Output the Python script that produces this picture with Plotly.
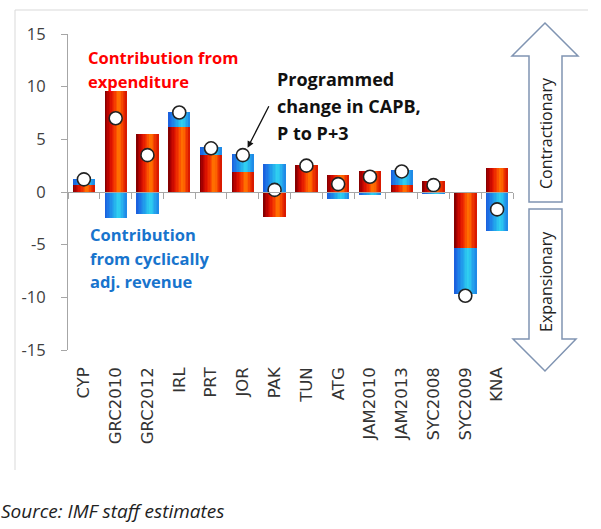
import plotly.graph_objects as go

categories = ["CYP", "GRC2010", "GRC2012", "IRL", "PRT", "JOR", "PAK", "TUN",
              "ATG", "JAM2010", "JAM2013", "SYC2008", "SYC2009", "KNA"]
expenditure = [0.7, 9.6, 5.55, 6.2, 3.55, 1.9, -2.35, 2.55, 1.6, 1.95, 0.65, 1.05, -5.35, 2.25]
revenue = [0.55, -2.5, -2.05, 1.4, 0.7, 1.75, 2.7, 0.0, -0.7, -0.3, 1.4, -0.2, -4.35, -3.7]
capb_change = [1.2, 7.0, 3.5, 7.55, 4.15, 3.5, 0.2, 2.5, 0.75, 1.45, 1.95, 0.65, -9.85, -1.65]
y_ticks = [-15, -10, -5, 0, 5, 10, 15]
y_tick_text = ["-15", "-10", "-5", "0", "5", "10", "15"]

W, H = 601, 529
ML, MR, MT, MB = 68, 88, 34, 179
PW, PH = W - ML - MR, H - MT - MB


def px(x):
    return (x - ML) / PW


def py(y):
    return (H - MB - y) / PH


def hex2rgb(h):
    h = h.lstrip("#")
    return [int(h[i:i + 2], 16) for i in (0, 2, 4)]


def interp(stops, t):
    for (t0, c0), (t1, c1) in zip(stops, stops[1:]):
        if t0 <= t <= t1:
            f = (t - t0) / (t1 - t0) if t1 > t0 else 0
            a, b = hex2rgb(c0), hex2rgb(c1)
            return "rgb({},{},{})".format(*[round(a[i] + (b[i] - a[i]) * f) for i in range(3)])
    return stops[-1][1]


red_stops = [(0.0, "#780000"), (0.12, "#B00000"), (0.3, "#E01400"), (0.48, "#F84000"),
             (0.6, "#FF7000"), (0.7, "#FF6A00"), (0.82, "#F03800"), (1.0, "#D41400")]
blue_stops = [(0.0, "#1A5CDC"), (0.15, "#1E76E6"), (0.4, "#22A6EC"), (0.6, "#30D0F0"),
              (0.7, "#2CC8F0"), (0.85, "#24A0EC"), (1.0, "#1E86E6")]

xpos = list(range(len(categories)))
rev_base = [e if (e >= 0) == (r >= 0) else 0 for e, r in zip(expenditure, revenue)]

BAR_W = 0.70
N = 16
step = BAR_W / N

fig = go.Figure()
for values, base, stops in ((expenditure, [0] * len(xpos), red_stops), (revenue, rev_base, blue_stops)):
    for i in range(N):
        left = -BAR_W / 2 + i * step
        fig.add_trace(go.Bar(x=xpos, y=values, base=base, offset=left, width=BAR_W / 2 - left,
                             marker=dict(color=interp(stops, (i + 0.5) / N), line=dict(width=0)),
                             showlegend=False, hoverinfo="skip"))

fig.add_trace(go.Scatter(x=xpos, y=capb_change, mode="markers", xaxis="x2",
                         marker=dict(size=13, color="white", line=dict(color="#222222", width=1.6)),
                         showlegend=False, cliponaxis=False))

axis_gray = "#A6A6A6"
fig.update_layout(
    width=W, height=H, margin=dict(l=ML, r=MR, t=MT, b=MB),
    paper_bgcolor="white", plot_bgcolor="white",
    barmode="overlay", bargap=0,
    xaxis=dict(range=[-0.5, 13.5], tickmode="array", tickvals=xpos, ticktext=categories,
               tickangle=-90, showline=False, showgrid=False, zeroline=False, ticks="",
               tickfont=dict(family="DejaVu Sans", size=16.5, color="#333333"),
               ticklabelstandoff=13),
    xaxis2=dict(range=[-0.5, 13.5], overlaying="x", anchor="free", position=0.5,
                tickmode="array", tickvals=[i - 0.5 for i in range(len(categories) + 1)],
                showticklabels=False, showline=True, linecolor=axis_gray, linewidth=1,
                ticks="outside", ticklen=6, tickcolor=axis_gray, showgrid=False, zeroline=False),
    yaxis=dict(range=[-15, 15], tickmode="array", tickvals=y_ticks, ticktext=y_tick_text,
               showline=True, linecolor=axis_gray, ticks="outside", ticklen=6, tickcolor=axis_gray,
               showgrid=False, zeroline=False,
               tickfont=dict(family="Open Sans", size=16.5, color="#404040"),
               ticklabelstandoff=12),
)

shapes = []
shapes.append(dict(type="line", xref="paper", yref="paper", x0=px(15), y0=py(10), x1=px(588), y1=py(10),
                   line=dict(color="#D9D9D9", width=1)))
shapes.append(dict(type="line", xref="paper", yref="paper", x0=px(15), y0=py(10), x1=px(15), y1=py(470),
                   line=dict(color="#D9D9D9", width=1)))


def poly(points):
    return "M " + " L ".join(f"{px(a):.5f},{py(b):.5f}" for a, b in points) + " Z"


up = [(545, 23), (578, 56), (562, 56), (562, 202), (529, 202), (529, 56), (512, 56)]
down = [(529, 209), (562, 209), (562, 339), (576, 339), (545, 371), (513, 339), (529, 339)]
for pts in (up, down):
    shapes.append(dict(type="path", xref="paper", yref="paper", path=poly(pts),
                       fillcolor="white", line=dict(color="#8094B2", width=1.5)))
fig.update_layout(shapes=shapes)

ann = []


def text(t, x, y, color, size, bold=True, family="Open Sans", italic=False):
    s = t
    if bold:
        s = f"<b>{s}</b>"
    if italic:
        s = f"<i>{s}</i>"
    ann.append(dict(text=s, xref="paper", yref="paper", x=px(x), y=py(y), xanchor="left",
                    yanchor="middle", showarrow=False,
                    font=dict(family=family, size=size, color=color)))


red_txt = "#FF0000"
blue_txt = "#1874CD"
text("Contribution from", 86, 58, red_txt, 16.5)
text("expenditure", 86, 81, red_txt, 16.5)
text("Contribution", 88, 234, blue_txt, 16.5)
text("from cyclically", 88, 258, blue_txt, 16.5)
text("adj. revenue", 88, 281, blue_txt, 16.5)
text("Programmed", 275, 79, "#111111", 18)
text("change in CAPB,", 275, 106, "#111111", 18)
text("P to P+3", 275, 133, "#111111", 18)
text("Source: IMF staff estimates", -1, 511, "#222222", 19, bold=False, italic=True)

ann.append(dict(text="", x=5.15, y=4.2, xref="x", yref="y", showarrow=True, arrowhead=2,
                arrowsize=1, arrowwidth=1.3, arrowcolor="#111111", ax=22, ay=-43))
ann.append(dict(text="Contractionary", textangle=-90, xref="paper", yref="paper", x=px(546), y=py(133),
                xanchor="center", yanchor="middle", showarrow=False,
                font=dict(family="Open Sans", size=16, color="#222222")))
ann.append(dict(text="Expansionary", textangle=-90, xref="paper", yref="paper", x=px(546), y=py(282),
                xanchor="center", yanchor="middle", showarrow=False,
                font=dict(family="Open Sans", size=16, color="#222222")))
fig.update_layout(annotations=ann)

fig.write_html("out.html", config={"displayModeBar": False},
               post_script="document.body.style.margin='0px';document.body.style.padding='0px';")
